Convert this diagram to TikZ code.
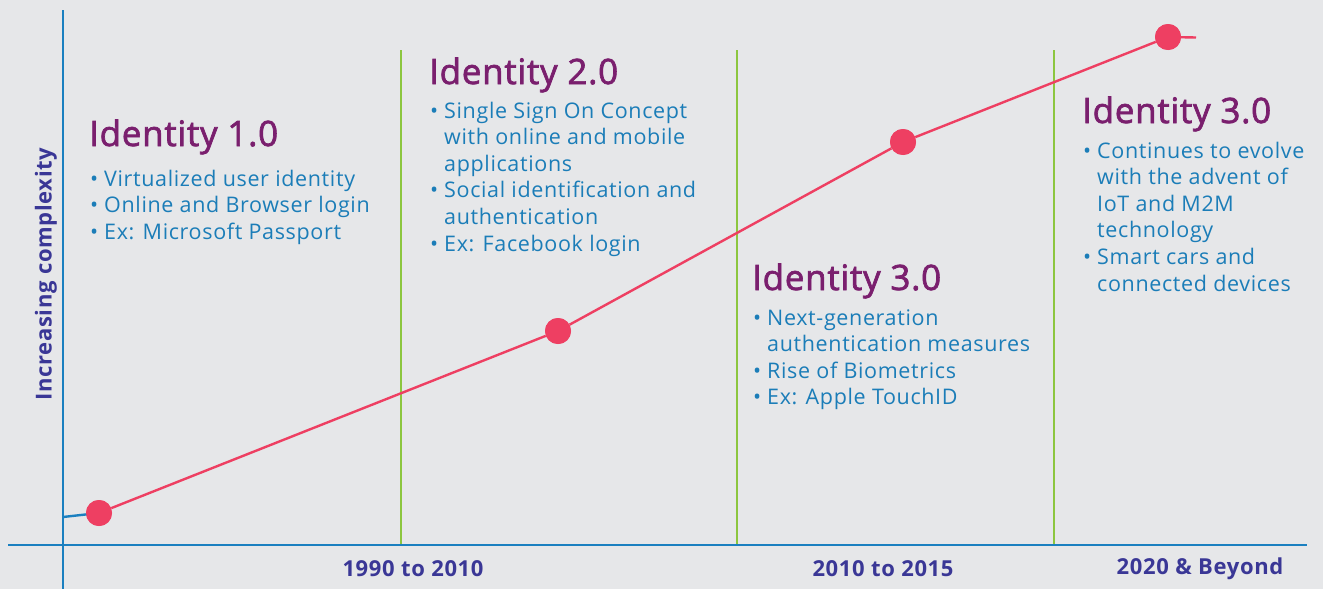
\documentclass[tikz,border=0pt]{standalone}
\usepackage{fontspec}
\setmainfont{Open Sans}[LetterSpace=3]
\newfontfamily\titlefont{Open Sans}[FakeBold=2,LetterSpace=2]
\definecolor{bg}{HTML}{E6E7E9}
\definecolor{axisblue}{HTML}{1B80C0}
\definecolor{linered}{HTML}{EE3F62}
\definecolor{titlepurple}{HTML}{7A1F6E}
\definecolor{bulletblue}{HTML}{1B7DB8}
\definecolor{labelblue}{HTML}{3A3796}
\definecolor{eragreen}{HTML}{8CC63F}
\newcommand{\bul}{\makebox[14pt][l]{•}}
\newcommand{\cont}{\hspace*{14pt}}
\newcommand{\blines}[1]{\begin{tabular}[t]{@{}l@{}}#1\end{tabular}}
\begin{document}
\begin{tikzpicture}[x=1pt,y=-1pt,
  axisline/.style={draw=axisblue,line width=2.8pt},
  eraline/.style={draw=eragreen,line width=1.3pt},
  trend/.style={draw=linered,line width=2.4pt},
  dot/.style={circle,fill=linered,minimum size=26pt,inner sep=0pt},
  titletext/.style={anchor=base west,inner sep=0pt,text=titlepurple,font=\titlefont\fontsize{35}{40}\selectfont},
  bullettext/.style={anchor=base west,inner sep=0pt,text=bulletblue,font=\fontsize{21.5}{26.6}\selectfont},
  axislabel/.style={inner sep=0pt,text=labelblue,font=\bfseries\fontsize{22}{26}\selectfont}]
\fill[bg] (0,0) rectangle (1323,589);
\useasboundingbox (0,0) rectangle (1323,589);
% axes
\coordinate (ytop) at (63,10);
\coordinate (ybot) at (63,589);
\coordinate (xl) at (8,545);
\coordinate (xr) at (1307,545);
% era lines
\foreach \n/\x in {a/401,b/737,c/1054}{
  \coordinate (\n top) at (\x,50);
  \coordinate (\n bot) at (\x,545);
  \draw[eraline] (\n top) -- (\n bot);
}
\draw[axisline] (ytop) -- (ybot);
\draw[axisline] (xl) -- (xr);
% trend
\node[dot] (p1) at (99,513) {};
\node[dot] (p2) at (558,331) {};
\node[dot] (p3) at (903,142) {};
\node[dot] (p4) at (1168,37) {};
\coordinate (s0) at (63,517);
\coordinate (e0) at (1196,37.5);
\draw[axisblue,line width=2.4pt] (s0) -- (p1.center);
\draw[trend] (p1) -- (p2) -- (p3) -- (p4) -- (e0);
\node[dot] at (p1) {};
\node[dot] at (p2) {};
\node[dot] at (p3) {};
\node[dot] at (p4) {};
% labels
\node[axislabel,rotate=90] (ylab) at (46,274) {Increasing complexity};
\node[axislabel] (x1) at (413,569) {1990 to 2010};
\node[axislabel] (x2) at (883,569) {2010 to 2015};
\node[axislabel] (x3) at (1200,569) {2020 \& Beyond};
% blocks
\node[titletext] (t1) at (89,146) {Identity 1.0};
\node[bullettext] (b1) at (90,186) {\blines{\bul Virtualized user identity\\\bul Online and Browser login\\\bul Ex: Microsoft Passport}};
\node[titletext] (t2) at (429,84) {Identity 2.0};
\node[bullettext] (b2) at (430,118) {\blines{\bul Single Sign On Concept\\\cont with online and mobile\\\cont applications\\\bul Social identification and\\\cont authentication\\\bul Ex: Facebook login}};
\node[titletext] (t3) at (752,290) {Identity 3.0};
\node[bullettext] (b3) at (753,325) {\blines{\bul Next-generation\\\cont authentication measures\\\bul Rise of Biometrics\\\bul Ex: Apple TouchID}};
\node[titletext] (t4) at (1082,123) {Identity 3.0};
\node[bullettext] (b4) at (1083,158) {\blines{\bul Continues to evolve\\\cont with the advent of\\\cont IoT and M2M\\\cont technology\\\bul Smart cars and\\\cont connected devices}};
\end{tikzpicture}
\end{document}
